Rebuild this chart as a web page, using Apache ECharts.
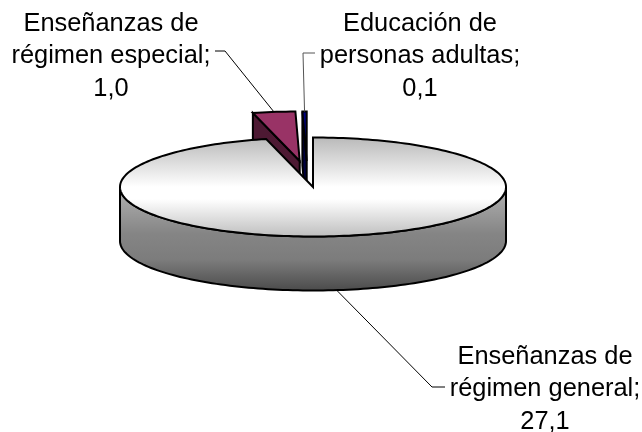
<!DOCTYPE html>
<html>
<head>
<meta charset="utf-8">
<script src="https://cdn.jsdelivr.net/npm/echarts@6/dist/echarts.min.js"></script>
<style>
  html, body { margin: 0; padding: 0; background: #fff; }
  #chart { width: 642px; height: 432px; }
</style>
</head>
<body>
<div id="chart"></div>
<script>
const sliceNames = ["Enseñanzas de\nrégimen general", "Enseñanzas de\nrégimen especial", "Educación de\npersonas adultas"];
const sliceValues = [27.1, 1.0, 0.1];

// back slices first, the big one has to cover them
const drawOrder = [1, 2, 0];

const cx = 313, cy = 187, rx = 193, ry = 49.5, depth = 54;
const explode = [[0, 0], [-13.3, -26], [-6.3, -26]];
const labelPos = [[545, 389], [111, 56], [420, 56]];
const elbows = [[[432, 387], [445, 387]], [[225, 51], [215, 51]], [[303, 53], [315, 53]]];
const leaderColor = ["#000", "#000", "#555"];

const total = sliceValues.reduce((a, b) => a + b, 0);

function sliceAngles(idx) {
    let start = 0;
    for (let i = 0; i < idx; i++) start += sliceValues[i] / total * 360;
    return [start, start + sliceValues[idx] / total * 360];
}

function rimPoint(deg, off, drop) {
    const r = deg * Math.PI / 180;
    return [cx + off[0] + rx * Math.sin(r), cy + off[1] - ry * Math.cos(r) + (drop || 0)];
}

function arc(from, to, off, drop) {
    const pts = [];
    const n = Math.max(2, Math.ceil(Math.abs(to - from) / 1.5));
    for (let i = 0; i <= n; i++) pts.push(rimPoint(from + (to - from) * i / n, off, drop));
    return pts;
}

function face(points, fill) {
    return {
        type: "polygon",
        shape: { points: points },
        style: { fill: fill, stroke: "#000", lineWidth: 2, lineJoin: "miter" }
    };
}

function vGrad(stops) {
    return new echarts.graphic.LinearGradient(0, 0, 0, 1, stops.map(s => ({ offset: s[0], color: s[1] })));
}

function renderSlice(params, api) {
    const idx = api.value(0);
    const [a0, a1] = sliceAngles(idx);
    const off = explode[idx];
    const apex = [cx + off[0], cy + off[1]];
    const children = [];

    if (idx === 0) {
        // front wall, then the top with the notch cut out of it
        const front = arc(90, 270, off, 0).concat(arc(270, 90, off, depth));
        children.push(face(front, vGrad([[0, "#b4b4b4"], [0.45, "#858585"], [0.7, "#7c7c7c"], [1, "#4a4a4a"]])));
        children.push(face([apex].concat(arc(a0, a1, off, 0)), vGrad([[0, "#b8b8b8"], [0.5, "#ffffff"], [0.62, "#ffffff"], [1, "#bdbdbd"]])));
    } else {
        const dark = idx === 1 ? "#4d1933" : "#000040";
        const light = idx === 1 ? "#993366" : "#000080";
        const rimStart = rimPoint(a0, off, 0);
        children.push(face([apex, rimStart, [rimStart[0], rimStart[1] + depth], [apex[0], apex[1] + depth]], dark));
        children.push(face([apex].concat(arc(a0, a1, off, 0)), light));
    }

    // leader line runs from the middle of the slice to the label
    const mid = (a0 + a1) / 2;
    const anchor = rimPoint(mid, off, idx === 0 ? depth : 0);
    children.push({
        type: "polyline",
        shape: { points: [anchor].concat(elbows[idx]) },
        style: { fill: null, stroke: leaderColor[idx], lineWidth: 1 }
    });

    children.push({
        type: "text",
        style: {
            x: labelPos[idx][0],
            y: labelPos[idx][1],
            text: sliceNames[idx] + ";\n" + sliceValues[idx].toFixed(1).replace(".", ","),
            font: '25.4px "Liberation Sans", Arial, sans-serif',
            fill: "#000",
            align: "center",
            verticalAlign: "middle",
            lineHeight: 32.5
        }
    });

    return { type: "group", children: children };
}

const chart = echarts.init(document.getElementById("chart"), null, { renderer: "canvas" });
chart.setOption({
    animation: false,
    backgroundColor: "#fff",
    tooltip: { show: false },
    series: [{
        type: "custom",
        coordinateSystem: "none",
        renderItem: renderSlice,
        data: drawOrder.map(i => [i, sliceValues[i]])
    }]
});
</script>
</body>
</html>
